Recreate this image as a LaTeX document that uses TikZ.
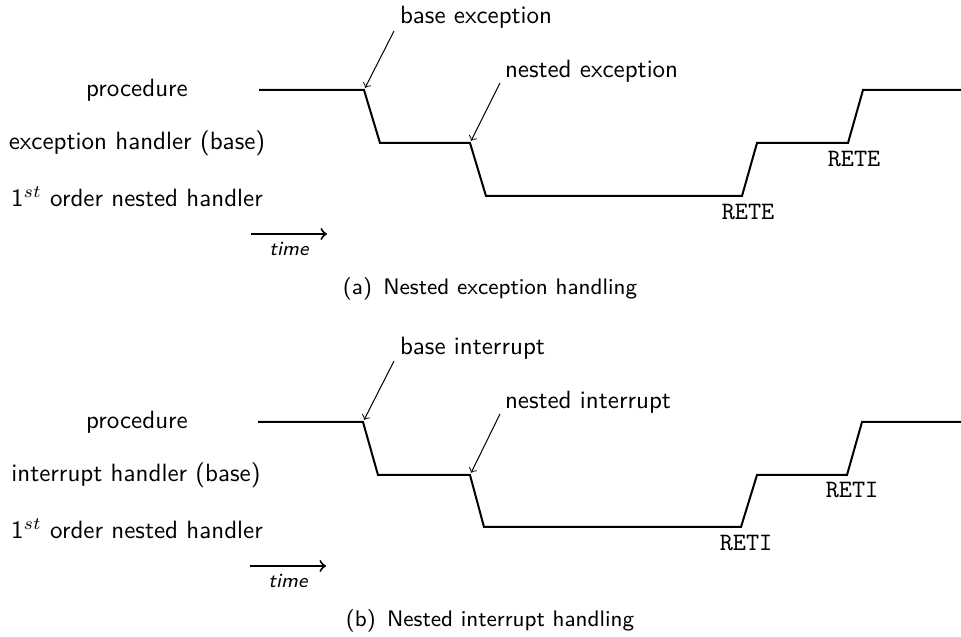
\documentclass[tikz,border=0pt]{standalone}
\usepackage{tikz}
\begin{document}
\begin{tikzpicture}[x=0.4pt,y=-0.4pt,font=\sffamily,
  lane/.style={line width=0.8pt},
  ptr/.style={->,line width=0.4pt,shorten >=1pt},
  tarrow/.style={->,line width=0.8pt},
  lbl/.style={inner sep=1pt},
  ret/.style={font=\ttfamily,inner sep=1pt},
  tlabel/.style={font=\sffamily\itshape\footnotesize,inner sep=1pt},
  captext/.style={inner sep=1pt,font=\sffamily\small}]
\useasboundingbox (0,0) rectangle (961,637);
% ---------- (a) ----------
\node[lbl] (pa) at (137,90) {procedure};
\node[lbl] (ea) at (137,143) {exception handler (base)};
\node[lbl] (na) at (137,197) {1$^{st}$ order nested handler};
\coordinate (a0) at (259,90);
\coordinate (a1) at (364,90);
\coordinate (a2) at (380,143);
\coordinate (a3) at (470,143);
\coordinate (a4) at (486,196);
\coordinate (a5) at (742,196);
\coordinate (a6) at (757,143);
\coordinate (a7) at (848,143);
\coordinate (a8) at (863,90);
\coordinate (a9) at (961,90);
\draw[lane] (a0) -- (a1) -- (a2) -- (a3) -- (a4) -- (a5) -- (a6) -- (a7) -- (a8) -- (a9);
\node[lbl,anchor=west] (bea) at (397,17) {base exception};
\node[lbl,anchor=west] (nea) at (502,71) {nested exception};
\coordinate (bea0) at (394,31);
\coordinate (nea0) at (500,83);
\draw[ptr] (bea0) -- (a1);
\draw[ptr] (nea0) -- (a3);
\node[ret] (ra1) at (748,212) {RETE};
\node[ret] (ra2) at (854,159) {RETE};
\coordinate (ta0) at (251,234);
\coordinate (ta1) at (327,234);
\draw[tarrow] (ta0) -- (ta1);
\node[tlabel] (tla) at (289,249) {time};
\node[captext] (capa) at (490,289) {(a)\enspace Nested exception handling};
% ---------- (b) ----------
\node[lbl] (pb) at (137,422) {procedure};
\node[lbl] (eb) at (136,475) {interrupt handler (base)};
\node[lbl] (nb) at (137,529) {1$^{st}$ order nested handler};
\coordinate (b0) at (258,422);
\coordinate (b1) at (363,422);
\coordinate (b2) at (378,475);
\coordinate (b3) at (470,475);
\coordinate (b4) at (484,527);
\coordinate (b5) at (741,527);
\coordinate (b6) at (757,475);
\coordinate (b7) at (847,475);
\coordinate (b8) at (862,422);
\coordinate (b9) at (961,422);
\draw[lane] (b0) -- (b1) -- (b2) -- (b3) -- (b4) -- (b5) -- (b6) -- (b7) -- (b8) -- (b9);
\node[lbl,anchor=west] (beb) at (397,348) {base interrupt};
\node[lbl,anchor=west] (neb) at (502,402) {nested interrupt};
\coordinate (beb0) at (394,361);
\coordinate (neb0) at (500,414);
\draw[ptr] (beb0) -- (b1);
\draw[ptr] (neb0) -- (b3);
\node[ret] (rb1) at (746,543) {RETI};
\node[ret] (rb2) at (852,490) {RETI};
\coordinate (tb0) at (250,566);
\coordinate (tb1) at (326,566);
\draw[tarrow] (tb0) -- (tb1);
\node[tlabel] (tlb) at (288,581) {time};
\node[captext] (capb) at (490,621) {(b)\enspace Nested interrupt handling};
\end{tikzpicture}
\end{document}
